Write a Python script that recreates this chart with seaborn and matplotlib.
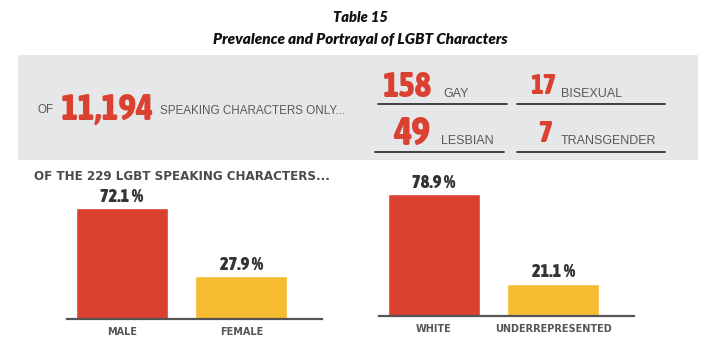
import matplotlib
matplotlib.use("Agg")
import matplotlib.pyplot as plt
import seaborn as sns
import pandas as pd
from matplotlib import font_manager
from matplotlib.font_manager import FontProperties
from matplotlib.patches import Rectangle
from matplotlib.lines import Line2D

# ---- data ----
total_speaking = "11,194"
orient_counts = ["158", "17", "49", "7"]
orient_labels = ["GAY", "BISEXUAL", "LESBIAN", "TRANSGENDER"]
lgbt_total = 229
gender_cats = ["MALE", "FEMALE"]
gender_pct = [72.1, 27.9]
race_cats = ["WHITE", "UNDERREPRESENTED"]
race_pct = [78.9, 21.1]

RED = "#db4130"
YELLOW = "#f5bc32"
GREY_TXT = "#58595b"

sns.set_theme(style="white")
plt.rcParams["font.family"] = ["Liberation Sans", "DejaVu Sans"]


def pick_condensed():
    cands = []
    for f in font_manager.fontManager.ttflist:
        st = str(f.stretch).lower()
        nm = f.name.lower()
        if "condensed" in st or "condensed" in nm or "narrow" in nm or "compressed" in nm:
            w = f.weight if isinstance(f.weight, int) else (700 if "bold" in str(f.weight) else 400)
            if f.style == "normal":
                cands.append((-w, f.fname))
    if cands:
        cands.sort()
        return FontProperties(fname=cands[0][1])
    return FontProperties(family="Liberation Sans", weight="bold")


NUM_FONT = pick_condensed()

W, H = 720, 352
fig = plt.figure(figsize=(W / 100, H / 100), dpi=100)
renderer = fig.canvas.get_renderer()


def fx(x):
    return x / W


def fy(y):
    return 1 - y / H


def ftext(x, y, s, **kw):
    return fig.text(fx(x), fy(y), s, transform=fig.transFigure, **kw)


def fit(t, target_w):
    w = t.get_window_extent(renderer).width
    t.set_fontsize(t.get_fontsize() * target_w / w)


def numtext(x, y, s, target_w, ha="left", size=20):
    fp = NUM_FONT.copy()
    fp.set_size(size)
    t = ftext(x, y, s, ha=ha, va="center", color=RED, fontproperties=fp)
    fit(t, target_w)
    return t


# title
TF = ["Lato", "DejaVu Sans"]
ftext(360, 18, "Table 15", ha="center", va="center", fontsize=10.5,
      fontweight="heavy", fontstyle="italic", color="#111111", family=TF)
ftext(360, 40, "Prevalence and Portrayal of LGBT Characters", ha="center", va="center",
      fontsize=11, fontweight="heavy", fontstyle="italic", color="#111111", family=TF)

# grey band
fig.patches.append(Rectangle((fx(18), fy(160)), fx(680), 105 / H, transform=fig.transFigure,
                             facecolor="#e6e7e9", edgecolor="none", zorder=0))

ftext(37, 110, "OF", ha="left", va="center", fontsize=8.4, color=GREY_TXT)
numtext(61, 110, total_speaking, 93)
ftext(160, 111, "SPEAKING CHARACTERS ONLY...", ha="left", va="center", fontsize=8.4,
      color=GREY_TXT)

# orientation counts
num_right = [432, 556, 430, 552]
num_w = [49, 26, 37, 14]
num_y = [87, 87, 134, 134]
lab_x = [443, 561, 441, 561]
line_x = [(378, 507), (517, 665), (375, 504), (517, 665)]
line_y = [104, 104, 152, 152]
for i in range(4):
    numtext(num_right[i], num_y[i], orient_counts[i], num_w[i], ha="right")
    ftext(lab_x[i], num_y[i] + 7, orient_labels[i], ha="left", va="center", fontsize=9,
          color=GREY_TXT)
    fig.add_artist(Line2D([fx(line_x[i][0]), fx(line_x[i][1])], [fy(line_y[i])] * 2,
                          transform=fig.transFigure, color="#333333", lw=1.3))

sec = ftext(34, 176, f"OF THE {lgbt_total} LGBT SPEAKING CHARACTERS...", ha="left",
            va="center", fontsize=9, fontweight="bold", color="#4a4a4a",
            family=["DejaVu Sans"])
fit(sec, 296)


def bar_panel(left, base, cats, vals):
    ax = fig.add_axes([fx(left), 1 - base / H, 255 / W, 154 / H])
    df = pd.DataFrame({"cat": cats, "pct": vals})
    sns.barplot(data=df, x="cat", y="pct", hue="cat", palette=[RED, YELLOW], legend=False,
                width=0.77, saturation=1, ax=ax)
    ax.set_xlim(-0.46, 1.674)
    ax.set_ylim(0, 100)
    ax.patch.set_alpha(0)
    for s in ["top", "right", "left"]:
        ax.spines[s].set_visible(False)
    ax.spines["bottom"].set_color("#555555")
    ax.spines["bottom"].set_linewidth(1.6)
    ax.set_yticks([])
    ax.set_xlabel("")
    ax.set_ylabel("")
    ax.tick_params(axis="x", length=0, pad=6)
    for t in ax.get_xticklabels():
        t.set_fontsize(7)
        t.set_fontweight("bold")
        t.set_color("#555555")
        t.set_family("DejaVu Sans")
    labs = []
    for i, v in enumerate(vals):
        fp = NUM_FONT.copy()
        fp.set_size(12)
        t = ax.annotate(f"{v} %", (i, v), xytext=(0, 1.5), textcoords="offset points",
                        ha="center", va="bottom", color="#333333", fontproperties=fp)
        labs.append(t)
    return ax, labs


ax1, l1 = bar_panel(67, 319, gender_cats, gender_pct)
ax2, l2 = bar_panel(379, 316, race_cats, race_pct)
# size percent labels so "78.9 %" spans ~43 px, same size for all
w = l2[0].get_window_extent(renderer).width
for t in l1 + l2:
    t.set_fontsize(t.get_fontsize() * 43 / w)

fig.savefig("out.png", dpi=100)
